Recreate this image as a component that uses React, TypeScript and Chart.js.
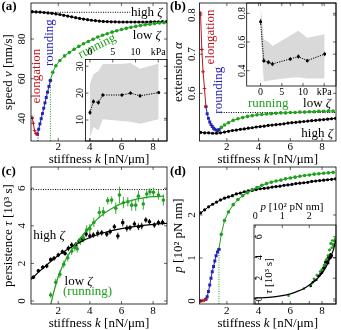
import React, { useEffect, useRef } from 'react';
import { Chart, registerables } from 'chart.js';

Chart.register(...registerables);

const FONT = '"Liberation Serif", "Times New Roman", serif';
const BLACK = '#000000';
const RED = '#c0141c';
const BLUE = '#2424b4';
const GREEN = '#1fa01f';
const BAND = '#d9d9d9';

/* ---------- shared stiffness axis (nN/um) ---------- */
const K_RANGE = [0.275, 8.88];
const K_TICKS = [2, 4, 6, 8];
const K_RED = [0.34, 0.42, 0.5, 0.59, 0.68];
const K_BLUE = [0.68, 0.76, 0.84, 0.92, 1.0, 1.08, 1.16, 1.24, 1.32, 1.41, 1.5];
const K_GREEN = [1.5, 1.65, 1.85, 2.1, 2.4, 2.7, 3.0, 3.3, 3.6, 3.9, 4.2, 4.5, 4.8, 5.1, 5.4, 5.7, 6.0, 6.3, 6.6, 6.9, 7.2, 7.5, 7.8, 8.1, 8.4, 8.7];
const K_BLACK = [0.35, 0.6, 0.85, 1.1, 1.35, 1.6, 1.85, 2.1, 2.35, 2.6, 2.85, 3.1, 3.35, 3.6, 3.85, 4.1, 4.35, 4.6, 4.85, 5.1, 5.35, 5.6, 5.85, 6.1, 6.35, 6.6, 6.85, 7.1, 7.35, 7.6, 7.85, 8.1, 8.35, 8.6, 8.85];
const K_SWITCH = 1.5;
const K_ROUND = 0.72;

/* ---------- (a) speed v [nm/s] ---------- */
const SPEED_RANGE = [28.55, 98.2];
const SPEED_TICKS = [40, 60, 80];
const SPEED_RED = [40.5, 37.5, 33.8, 32.3, 32.0];
const SPEED_BLUE = [32.0, 34.5, 37.2, 39.8, 42.4, 45.1, 47.8, 50.5, 53.2, 56.1, 59.0];
const SPEED_GREEN = [59.2, 63.2, 66.5, 69.2, 71.5, 73.2, 74.8, 76.3, 77.6, 78.8, 79.9, 81.0, 81.9, 82.7, 83.5, 84.2, 84.8, 85.4, 85.9, 86.4, 86.8, 87.2, 87.5, 87.8, 88.1, 88.3];
const SPEED_BLACK = [93.8, 93.7, 93.6, 93.4, 93.2, 93.0, 92.7, 92.4, 92.0, 91.6, 91.2, 90.8, 90.4, 90.1, 89.8, 89.5, 89.3, 89.1, 88.9, 88.8, 88.7, 88.7, 88.6, 88.6, 88.6, 88.6, 88.6, 88.6, 88.6, 88.6, 88.7, 88.7, 88.7, 88.8, 88.8];
const SPEED_HIGH_REF = 93.5;
const SPEED_HIGH_REF_END = 6.55;
const SPEED_ROUND_MIN = 33.0;

/* ---------- insets (a),(b): experiment vs substrate stiffness (kPa) ---------- */
const KPA = [0, 0.75, 1.85, 2.8, 7.0, 8.9, 11.0, 15.1];
const KPA_TICKS = [0, 5, 10, 15];
const EXP_SPEED = [12.8, 16.9, 16.5, 19.3, 19.3, 20.0, 19.0, 20.2];
const EXP_SPEED_ERR = [0.9, 0.8, 0.8, 0.7, 0.6, 0.6, 0.7, 0.6];
const EXP_SPEED_HI = [23.5, 27.0, 28.2, 30.8, 30.8, 31.2, 29.1, 31.0];
const EXP_SPEED_LO = [3.6, 7.4, 6.1, 10.3, 9.6, 9.4, 8.6, 10.3];
const AI_X = [-0.99, 16.92];
const AI_Y = [2.2, 32.5];
const AI_YTICKS = [10, 20, 30];

const EXP_EXT = [0.741, 0.47, 0.459, 0.447, 0.482, 0.498, 0.47, 0.516];
const EXP_EXT_ERR = [0.02, 0.015, 0.015, 0.015, 0.012, 0.015, 0.012, 0.015];
const EXP_EXT_HI = [0.858, 0.619, 0.6, 0.572, 0.646, 0.679, 0.63, 0.654];
const EXP_EXT_LO = [0.637, 0.324, 0.33, 0.335, 0.35, 0.354, 0.345, 0.345];
const BI_X = [-3.28, 17.78];
const BI_Y = [0.293, 0.872];
const BI_YTICKS = [0.4, 0.6, 0.8];

/* ---------- (b) extension alpha ---------- */
const EXT_RANGE = [0.4782, 0.8307];
const EXT_TICKS = [0.6, 0.7, 0.8];
const EXT_RED = [0.805, 0.712, 0.655, 0.612, 0.566];
const EXT_BLUE = [0.566, 0.548, 0.536, 0.527, 0.52, 0.515, 0.511, 0.508, 0.506, 0.505, 0.507];
const EXT_GREEN = [0.507, 0.513, 0.519, 0.525, 0.531, 0.535, 0.538, 0.541, 0.543, 0.545, 0.546, 0.547, 0.548, 0.549, 0.55, 0.55, 0.551, 0.551, 0.552, 0.552, 0.553, 0.553, 0.554, 0.554, 0.555, 0.555];
const EXT_BLACK = [0.5, 0.499, 0.499, 0.498, 0.498, 0.499, 0.501, 0.503, 0.505, 0.506, 0.508, 0.509, 0.511, 0.512, 0.514, 0.515, 0.516, 0.518, 0.519, 0.52, 0.521, 0.522, 0.524, 0.525, 0.526, 0.527, 0.528, 0.529, 0.53, 0.531, 0.532, 0.533, 0.534, 0.535, 0.536];
const EXT_LOW_REF = 0.551;

/* ---------- (c) persistence tau [10^3 s] ---------- */
const TAU_RANGE = [-0.16, 7.13];
const TAU_TICKS = [0, 2, 4, 6];
const TAU_REF = 5.93;
const K_TAU_HIGH = [0.42, 0.74, 1.02, 1.27, 1.52, 1.73, 2.0, 2.26, 2.43, 2.64, 2.85, 3.1, 3.32, 3.53, 3.76, 4.0, 4.22, 4.5, 4.75, 5.07, 5.28, 5.55, 5.77, 6.08, 6.34, 6.54, 6.82, 7.07, 7.28, 7.54, 7.77, 8.08, 8.34, 8.6];
const TAU_HIGH = [1.26, 1.61, 1.79, 1.86, 2.2, 2.27, 2.45, 2.62, 2.53, 2.8, 2.98, 2.98, 3.19, 3.28, 3.56, 3.46, 3.51, 3.6, 3.63, 3.56, 3.69, 3.95, 3.46, 4.17, 3.87, 3.9, 4.1, 3.95, 3.99, 4.31, 4.22, 4.04, 4.17, 4.19];
const TAU_HIGH_ERR = [0.1, 0.1, 0.12, 0.12, 0.12, 0.12, 0.12, 0.12, 0.12, 0.15, 0.15, 0.15, 0.15, 0.15, 0.15, 0.15, 0.15, 0.18, 0.15, 0.15, 0.15, 0.15, 0.18, 0.2, 0.18, 0.15, 0.15, 0.18, 0.18, 0.15, 0.15, 0.15, 0.15, 0.15];
const K_TAU_LOW = [1.52, 1.84, 2.1, 2.35, 2.6, 2.85, 3.05, 3.2, 3.4, 3.6, 3.8, 4.0, 4.25, 4.6, 4.85, 5.13, 5.38, 5.64, 5.87, 6.12, 6.4, 6.65, 6.9, 7.07, 7.38, 7.6, 7.8, 8.02, 8.34, 8.65];
const TAU_LOW = [0.32, 1.0, 1.42, 1.95, 2.3, 2.65, 2.85, 2.78, 3.2, 3.35, 3.78, 3.85, 4.18, 4.71, 4.75, 5.34, 5.37, 4.93, 5.64, 5.23, 5.28, 5.1, 5.1, 5.58, 5.16, 5.69, 5.81, 5.78, 5.64, 5.37];
const TAU_LOW_ERR = [0.15, 0.18, 0.2, 0.2, 0.2, 0.2, 0.2, 0.2, 0.22, 0.22, 0.25, 0.25, 0.25, 0.3, 0.25, 0.2, 0.2, 0.3, 0.45, 0.3, 0.25, 0.3, 0.3, 0.3, 0.3, 0.25, 0.2, 0.25, 0.25, 0.3];
const K_FIT_HIGH = [0.275, 1, 2, 3, 4, 5, 6, 7, 8, 8.88];
const TAU_FIT_HIGH = [1.15, 1.72, 2.42, 2.95, 3.38, 3.66, 3.85, 3.98, 4.08, 4.13];
const K_FIT_LOW = [1.53, 1.7, 2.0, 2.5, 3.0, 3.5, 4.0, 4.5, 5.0, 5.5, 6.0, 6.5, 7.0, 7.5, 8.0, 8.7];
const TAU_FIT_LOW = [-0.16, 0.42, 1.3, 2.25, 2.9, 3.45, 3.95, 4.38, 4.72, 4.98, 5.18, 5.32, 5.43, 5.5, 5.55, 5.58];

/* ---------- (d) p [10^2 pN nm] ---------- */
const P_RANGE = [-0.07, 3.116];
const P_TICKS = [0, 1, 2];
const P_RED = [0.0, 0.005, 0.01, 0.02, 0.04];
const P_BLUE = [0.04, 0.1, 0.22, 0.37, 0.53, 0.68, 0.8, 0.93, 1.05, 1.14, 1.2];
const P_GREEN = [1.2, 1.55, 1.87, 2.07, 2.24, 2.36, 2.45, 2.52, 2.59, 2.64, 2.69, 2.73, 2.76, 2.79, 2.81, 2.84, 2.86, 2.88, 2.9, 2.92, 2.93, 2.95, 2.96, 2.97, 2.98, 2.99];
const P_BLACK = [2.05, 2.12, 2.19, 2.25, 2.3, 2.35, 2.39, 2.42, 2.45, 2.49, 2.51, 2.54, 2.56, 2.57, 2.59, 2.61, 2.62, 2.63, 2.65, 2.66, 2.67, 2.69, 2.7, 2.71, 2.73, 2.74, 2.75, 2.76, 2.78, 2.79, 2.8, 2.81, 2.82, 2.83, 2.84];

/* ---------- inset (d): tau vs p ---------- */
const DI_X = [-0.048, 2.989];
const DI_Y = [-0.48, 7.13];
const DI_XTICKS = [0, 1, 2];
const DI_YTICKS = [0, 2, 4, 6];
const P_CURVE = [-0.05, 0.5, 1.0, 1.3, 1.6, 1.8, 2.0, 2.2, 2.4, 2.6, 2.75, 2.9, 2.98];
const TAU_CURVE = [0.08, 0.15, 0.32, 0.5, 0.78, 1.02, 1.35, 1.75, 2.25, 3.0, 3.8, 4.8, 5.7];
const P_EXP_HIGH = [2.05, 2.13, 2.2, 2.26, 2.33, 2.37, 2.42, 2.45, 2.47, 2.5, 2.52, 2.54, 2.56, 2.57, 2.59, 2.61, 2.62, 2.63, 2.65, 2.66, 2.67, 2.69, 2.7, 2.71, 2.73, 2.74, 2.75, 2.76, 2.78, 2.79, 2.8, 2.81, 2.82, 2.83];
const TAU_EXP_HIGH = [1.26, 1.61, 1.79, 1.86, 2.2, 2.27, 2.45, 2.62, 2.53, 2.8, 2.98, 2.98, 3.19, 3.28, 3.56, 3.46, 3.51, 3.6, 3.63, 3.56, 3.69, 3.95, 3.46, 4.17, 3.87, 3.9, 4.1, 3.95, 3.99, 4.31, 4.22, 4.04, 4.17, 4.19];
const P_EXP_LOW = [1.23, 1.8, 2.07, 2.17, 2.28, 2.4, 2.46, 2.5, 2.54, 2.59, 2.62, 2.66, 2.69, 2.74, 2.76, 2.79, 2.81, 2.83, 2.85, 2.87, 2.89, 2.9, 2.92, 2.92, 2.94, 2.95, 2.96, 2.97, 2.98, 2.99];
const TAU_EXP_LOW = [0.32, 1.0, 1.42, 1.95, 2.3, 2.65, 2.85, 2.78, 3.2, 3.35, 3.78, 3.85, 4.18, 4.71, 4.75, 5.34, 5.37, 4.93, 5.64, 5.23, 5.28, 5.1, 5.1, 5.58, 5.16, 5.69, 5.81, 5.78, 5.64, 5.37];

/* ================= helpers ================= */
type Seg = [string, boolean?];
interface Txt {
  segs: Seg[];
  x?: number; y?: number;
  ax?: 'l' | 'c' | 'r' | 'z'; ay?: 't' | 'm' | 'b' | 'z';
  dx?: number; dy?: number;
  rot?: number; color?: string; size?: number; align?: 'left' | 'center' | 'right'; bold?: boolean;
}

const pts = (xs: number[], ys: number[]) => xs.map((x, i) => ({ x, y: ys[i] }));
const errSegs = (xs: number[], ys: number[], es: number[]) =>
  xs.flatMap((x, i) => [{ x, y: ys[i] - es[i] }, { x, y: ys[i] + es[i] }, { x, y: null }]);

const lineDs = (data: any[], color: string, extra: any = {}) => ({
  data, borderColor: color, backgroundColor: color, borderWidth: 1, pointRadius: 0,
  showLine: true, fill: false, spanGaps: false, tension: 0, ...extra,
});
const dotted = (data: any[], color: string) => lineDs(data, color, { borderDash: [1, 1.4], borderWidth: 1 });
const markDs = (data: any[], color: string, r: number, style: string, line: boolean, extra: any = {}) => ({
  data, showLine: line, borderColor: color, backgroundColor: color, borderWidth: 1, fill: false,
  pointRadius: r, pointStyle: style, pointBackgroundColor: color, pointBorderColor: color,
  pointBorderWidth: style === 'cross' ? 1 : 0, tension: 0, ...extra,
});
const bandDs = (data: any[], fill: any) => ({
  data, showLine: true, borderColor: 'rgba(0,0,0,0)', backgroundColor: BAND, borderWidth: 1,
  pointRadius: 0, fill, tension: 0,
});

function drawSegs(ctx: CanvasRenderingContext2D, t: Txt, x: number, y: number) {
  const size = t.size || 13;
  ctx.save();
  ctx.translate(x, y);
  if (t.rot) ctx.rotate((t.rot * Math.PI) / 180);
  ctx.fillStyle = t.color || BLACK;
  ctx.textBaseline = 'middle';
  ctx.textAlign = 'left';
  const fonts = t.segs.map((s) => `${s[1] ? 'italic ' : ''}${t.bold ? 'bold ' : ''}${size}px ${FONT}`);
  const ws = t.segs.map((s, i) => { ctx.font = fonts[i]; return ctx.measureText(s[0]).width; });
  const total = ws.reduce((a, b) => a + b, 0);
  const align = t.align || 'center';
  let cx = align === 'center' ? -total / 2 : align === 'right' ? -total : 0;
  t.segs.forEach((s, i) => { ctx.font = fonts[i]; ctx.fillText(s[0], cx, 0); cx += ws[i]; });
  ctx.restore();
}

const TICK_LEN = 3;
function deco(texts: Txt[], innerY?: { size: number; dx: number }) {
  return {
    id: 'deco',
    afterDraw(chart: any) {
      const { ctx, chartArea: a, scales } = chart;
      ctx.save();
      ctx.strokeStyle = BLACK;
      ctx.lineWidth = 0.8;
      ctx.strokeRect(a.left, a.top, a.right - a.left, a.bottom - a.top);
      ctx.lineWidth = 0.6;
      ctx.beginPath();
      for (const t of scales.x.ticks) {
        const px = scales.x.getPixelForValue(t.value);
        if (px < a.left + 1 || px > a.right - 1) continue;
        ctx.moveTo(px, a.bottom); ctx.lineTo(px, a.bottom - TICK_LEN);
        ctx.moveTo(px, a.top); ctx.lineTo(px, a.top + TICK_LEN);
      }
      for (const t of scales.y.ticks) {
        const py = scales.y.getPixelForValue(t.value);
        if (py < a.top + 1 || py > a.bottom - 1) continue;
        ctx.moveTo(a.left, py); ctx.lineTo(a.left + TICK_LEN, py);
        ctx.moveTo(a.right, py); ctx.lineTo(a.right - TICK_LEN, py);
      }
      ctx.stroke();
      ctx.restore();
      if (innerY) {
        for (const t of scales.y.ticks) {
          drawSegs(ctx, { segs: [[String(t.value)]], rot: -90, size: innerY.size }, a.left + innerY.dx, scales.y.getPixelForValue(t.value));
        }
      }
      for (const t of texts) {
        let px: number, py: number;
        if (t.x !== undefined && t.y !== undefined) {
          px = scales.x.getPixelForValue(t.x);
          py = scales.y.getPixelForValue(t.y);
        } else {
          const bx = { l: a.left, c: (a.left + a.right) / 2, r: a.right, z: 0 }[t.ax || 'z'];
          const by = { t: a.top, m: (a.top + a.bottom) / 2, b: a.bottom, z: 0 }[t.ay || 'z'];
          px = bx + (t.dx || 0);
          py = by + (t.dy || 0);
        }
        drawSegs(ctx, t, px, py);
      }
    },
  };
}

const zeroPad = (sc: any) => { sc.paddingLeft = 0; sc.paddingRight = 0; sc.paddingTop = 0; sc.paddingBottom = 0; };

function xAxis(o: { pos: string; range: number[]; ticks: number[]; size: number; pad: number; extent: number; fmt?: (v: number) => string }) {
  return {
    type: 'linear', position: o.pos, min: o.range[0], max: o.range[1],
    afterBuildTicks: (sc: any) => { sc.ticks = o.ticks.map((v) => ({ value: v })); },
    afterFit: (sc: any) => { sc.height = o.extent; zeroPad(sc); },
    grid: { display: false, drawTicks: false },
    border: { display: false },
    ticks: {
      autoSkip: false, maxRotation: 0, minRotation: 0, padding: o.pad, color: BLACK,
      font: { family: FONT, size: o.size },
      callback: (v: any) => (o.fmt ? o.fmt(Number(v)) : String(v)),
    },
  };
}
function yAxis(o: { range: number[]; ticks: number[]; size: number; pad: number; extent: number; show?: boolean }) {
  return {
    type: 'linear', position: 'left', min: o.range[0], max: o.range[1],
    afterBuildTicks: (sc: any) => { sc.ticks = o.ticks.map((v) => ({ value: v })); },
    afterFit: (sc: any) => { sc.width = o.extent; zeroPad(sc); },
    grid: { display: false, drawTicks: false },
    border: { display: false },
    ticks: {
      display: o.show !== false,
      autoSkip: false, minRotation: 90, maxRotation: 90, crossAlign: 'center', padding: o.pad, color: BLACK,
      font: { family: FONT, size: o.size },
      callback: (v: any) => String(v),
    },
  };
}
function baseOptions(padding: any, x: any, y: any) {
  return {
    responsive: false, animation: false, devicePixelRatio: 1, events: [],
    layout: { autoPadding: false, padding },
    plugins: { legend: { display: false }, tooltip: { enabled: false } },
    scales: { x, y },
  };
}
const kpaFmt = (v: number) => (v === 15 ? 'kPa' : String(v));
const stiffTitle: Seg[] = [['stiffness '], ['k', true], [' [nN/μm]']];

/* ================= chart configs ================= */
const cfgA = () => ({
  type: 'line',
  data: {
    datasets: [
      markDs(pts(K_RED, SPEED_RED), RED, 1.8, 'cross', true),
      markDs(pts(K_BLUE, SPEED_BLUE), BLUE, 2.1, 'rect', true),
      markDs(pts(K_GREEN, SPEED_GREEN), GREEN, 1.8, 'circle', true),
      markDs(pts(K_BLACK, SPEED_BLACK), BLACK, 1.6, 'circle', true),
      dotted([{ x: K_SWITCH, y: SPEED_RANGE[0] }, { x: K_SWITCH, y: SPEED_GREEN[0] }], GREEN),
      dotted([{ x: K_ROUND, y: SPEED_RANGE[0] }, { x: K_ROUND, y: SPEED_ROUND_MIN }], BLUE),
      dotted([{ x: K_RANGE[0], y: SPEED_HIGH_REF }, { x: SPEED_HIGH_REF_END, y: SPEED_HIGH_REF }], BLACK),
    ],
  },
  options: baseOptions(
    { left: 0, top: 3, right: 3, bottom: 0 },
    xAxis({ pos: 'bottom', range: K_RANGE, ticks: K_TICKS, size: 11, pad: 0, extent: 24 }),
    yAxis({ range: SPEED_RANGE, ticks: SPEED_TICKS, size: 11, pad: 3, extent: 31 }),
  ),
  plugins: [deco([
    { segs: [['high '], ['ζ', true]], x: 7.6, y: 93.4 },
    { segs: [['low '], ['ζ', true]], x: 7.6, y: 82 },
    { segs: [['running']], x: 4.45, y: 76.4, rot: -27, color: GREEN },
    { segs: [['elongation']], x: 0.625, y: 61.3, rot: -90, color: RED },
    { segs: [['rounding']], x: 1.48, y: 78.2, rot: -90, color: BLUE },
    { segs: [['(a)']], ax: 'z', ay: 'z', dx: 1.5, dy: 6.5, align: 'left', bold: true },
    { segs: stiffTitle, ax: 'c', ay: 'b', dy: 18.5 },
    { segs: [['speed '], ['v', true], [' [nm/s]']], ax: 'z', ay: 'm', dx: 8.5, rot: -90 },
  ])],
});

const cfgAI = () => ({
  type: 'line',
  data: {
    datasets: [
      markDs(pts(KPA, EXP_SPEED), BLACK, 1.5, 'circle', true, { borderDash: [1.2, 1.2] }),
      lineDs(errSegs(KPA, EXP_SPEED, EXP_SPEED_ERR), BLACK, { borderWidth: 0.8 }),
      bandDs(pts(KPA, EXP_SPEED_HI), '+1'),
      bandDs(pts(KPA, EXP_SPEED_LO), false),
    ],
  },
  options: baseOptions(
    { left: 0, top: 0, right: 2, bottom: 2 },
    xAxis({ pos: 'top', range: AI_X, ticks: KPA_TICKS, size: 10, pad: 0.8, extent: 17.5, fmt: kpaFmt }),
    yAxis({ range: AI_Y, ticks: AI_YTICKS, size: 10, pad: 0.5, extent: 15.5 }),
  ),
  plugins: [deco([])],
});

const cfgB = () => ({
  type: 'line',
  data: {
    datasets: [
      markDs(pts(K_RED, EXT_RED), RED, 1.8, 'cross', true),
      markDs(pts(K_BLUE, EXT_BLUE), BLUE, 2.1, 'rect', true),
      markDs(pts(K_GREEN, EXT_GREEN), GREEN, 1.8, 'circle', true),
      markDs(pts(K_BLACK, EXT_BLACK), BLACK, 1.6, 'circle', true),
      dotted([{ x: K_SWITCH, y: EXT_LOW_REF }, { x: K_RANGE[1], y: EXT_LOW_REF }], BLACK),
    ],
  },
  options: baseOptions(
    { left: 0, top: 3, right: 5, bottom: 0 },
    xAxis({ pos: 'bottom', range: K_RANGE, ticks: K_TICKS, size: 11, pad: 0, extent: 24 }),
    yAxis({ range: EXT_RANGE, ticks: EXT_TICKS, size: 11, pad: 0.9, extent: 29.5 }),
  ),
  plugins: [deco([
    { segs: [['elongation']], x: 0.95, y: 0.744, rot: -90, color: RED },
    { segs: [['rounding']], x: 1.47, y: 0.608, rot: -90, color: BLUE },
    { segs: [['running']], x: 4.61, y: 0.5745, color: GREEN },
    { segs: [['low '], ['ζ', true]], x: 7.69, y: 0.5745 },
    { segs: [['high '], ['ζ', true]], x: 7.69, y: 0.4978 },
    { segs: [['(b)']], ax: 'z', ay: 'z', dx: 0, dy: 6.5, align: 'left', bold: true },
    { segs: stiffTitle, ax: 'c', ay: 'b', dy: 18.5 },
    { segs: [['extension '], ['α', true]], ax: 'z', ay: 'm', dx: 8.3, rot: -90 },
  ])],
});

const cfgBI = () => ({
  type: 'line',
  data: {
    datasets: [
      markDs(pts(KPA, EXP_EXT), BLACK, 1.5, 'circle', true, { borderDash: [1.2, 1.2] }),
      lineDs(errSegs(KPA, EXP_EXT, EXP_EXT_ERR), BLACK, { borderWidth: 0.8 }),
      bandDs(pts(KPA, EXP_EXT_HI), '+1'),
      bandDs(pts(KPA, EXP_EXT_LO), false),
    ],
  },
  options: baseOptions(
    { left: 0, top: 2, right: 2, bottom: 0 },
    xAxis({ pos: 'bottom', range: BI_X, ticks: KPA_TICKS, size: 10, pad: 0, extent: 14, fmt: kpaFmt }),
    yAxis({ range: BI_Y, ticks: BI_YTICKS, size: 10, pad: -2.25, extent: 14.7 }),
  ),
  plugins: [deco([])],
});

const cfgC = () => ({
  type: 'line',
  data: {
    datasets: [
      lineDs(pts(K_FIT_LOW, TAU_FIT_LOW), GREEN, { borderWidth: 1.2, cubicInterpolationMode: 'monotone' }),
      lineDs(pts(K_FIT_HIGH, TAU_FIT_HIGH), BLACK, { borderWidth: 1.2, cubicInterpolationMode: 'monotone' }),
      markDs(pts(K_TAU_LOW, TAU_LOW), GREEN, 1.8, 'circle', false),
      markDs(pts(K_TAU_HIGH, TAU_HIGH), BLACK, 1.8, 'circle', false),
      lineDs(errSegs(K_TAU_LOW, TAU_LOW, TAU_LOW_ERR), GREEN, { borderWidth: 0.9 }),
      lineDs(errSegs(K_TAU_HIGH, TAU_HIGH, TAU_HIGH_ERR), BLACK, { borderWidth: 0.9 }),
      dotted([{ x: K_RANGE[0], y: TAU_REF }, { x: K_RANGE[1], y: TAU_REF }], BLACK),
    ],
  },
  options: baseOptions(
    { left: 0, top: 2, right: 3, bottom: 0 },
    xAxis({ pos: 'bottom', range: K_RANGE, ticks: K_TICKS, size: 11, pad: 1, extent: 26 }),
    yAxis({ range: TAU_RANGE, ticks: TAU_TICKS, size: 11, pad: 6, extent: 31 }),
  ),
  plugins: [deco([
    { segs: [['high '], ['ζ', true]], x: 1.415, y: 3.48 },
    { segs: [['low '], ['ζ', true]], x: 2.4, y: 1.03, align: 'left' },
    { segs: [['(running)']], x: 2.3, y: 0.5, align: 'left', color: GREEN },
    { segs: [['(c)']], ax: 'z', ay: 'z', dx: 1.5, dy: 6.5, align: 'left', bold: true },
    { segs: stiffTitle, ax: 'c', ay: 'b', dy: 20 },
    { segs: [['persistence '], ['τ', true], [' [10³ s]']], ax: 'z', ay: 'm', dx: 8.5, rot: -90 },
  ])],
});

const cfgD = () => ({
  type: 'line',
  data: {
    datasets: [
      markDs(pts(K_RED, P_RED), RED, 1.8, 'cross', true),
      markDs(pts(K_BLUE, P_BLUE), BLUE, 2.1, 'rect', true),
      markDs(pts(K_GREEN, P_GREEN), GREEN, 1.8, 'circle', true),
      markDs(pts(K_BLACK, P_BLACK), BLACK, 1.6, 'circle', true),
      dotted([{ x: K_SWITCH, y: P_RANGE[0] }, { x: K_SWITCH, y: P_GREEN[0] }], GREEN),
    ],
  },
  options: baseOptions(
    { left: 0, top: 2, right: 5, bottom: 0 },
    xAxis({ pos: 'bottom', range: K_RANGE, ticks: K_TICKS, size: 11, pad: 1, extent: 26 }),
    yAxis({ range: P_RANGE, ticks: P_TICKS, size: 11, pad: 5, extent: 29.5 }),
  ),
  plugins: [deco([
    { segs: [['(d)']], ax: 'z', ay: 'z', dx: 0, dy: 6.5, align: 'left', bold: true },
    { segs: stiffTitle, ax: 'c', ay: 'b', dy: 20 },
    { segs: [['p', true], [' [10² pN nm]']], ax: 'z', ay: 'm', dx: 8.3, rot: -90 },
  ])],
});

const cfgDI = () => ({
  type: 'line',
  data: {
    datasets: [
      lineDs(pts(P_CURVE, TAU_CURVE), BLACK, { borderWidth: 1.2, cubicInterpolationMode: 'monotone' }),
      markDs(pts(P_EXP_LOW, TAU_EXP_LOW), GREEN, 1.3, 'circle', false),
      markDs(pts(P_EXP_HIGH, TAU_EXP_HIGH), BLACK, 1.3, 'circle', false),
    ],
  },
  options: baseOptions(
    { left: 0, top: 0, right: 2, bottom: 2 },
    xAxis({ pos: 'top', range: DI_X, ticks: DI_XTICKS, size: 10, pad: 2.3, extent: 27 }),
    yAxis({ range: DI_Y, ticks: DI_YTICKS, size: 10, pad: 0, extent: 10, show: false }),
  ),
  plugins: [deco([
    { segs: [['p', true], [' [10² pN nm]']], ax: 'l', ay: 't', dx: 38, dy: -18.3, size: 11 },
    { segs: [['τ', true], [' [10³ s]']], ax: 'l', ay: 'b', dx: 15, dy: -28, rot: -90, size: 11 },
  ], { size: 10, dx: 5 })],
});

/* ================= components ================= */
function ChartBox(props: { left: number; top: number; width: number; height: number; make: () => any }) {
  const ref = useRef<HTMLCanvasElement>(null);
  useEffect(() => {
    const chart = new Chart(ref.current as HTMLCanvasElement, props.make());
    return () => chart.destroy();
  }, []);
  return (
    <canvas
      ref={ref}
      width={props.width}
      height={props.height}
      style={{ position: 'absolute', left: props.left, top: props.top, width: props.width, height: props.height }}
    />
  );
}

export default function App() {
  return (
    <div style={{ position: 'fixed', left: 0, top: 0, width: 341, height: 330, background: '#ffffff', overflow: 'hidden' }}>
      <ChartBox left={0} top={0} width={170} height={165} make={cfgA} />
      <ChartBox left={170} top={0} width={171} height={165} make={cfgB} />
      <ChartBox left={0} top={165} width={170} height={165} make={cfgC} />
      <ChartBox left={170} top={165} width={171} height={165} make={cfgD} />
      <ChartBox left={70} top={42} width={99} height={101} make={cfgAI} />
      <ChartBox left={232} top={1} width={106} height={99} make={cfgBI} />
      <ChartBox left={244} top={198} width={94} height={108} make={cfgDI} />
    </div>
  );
}
